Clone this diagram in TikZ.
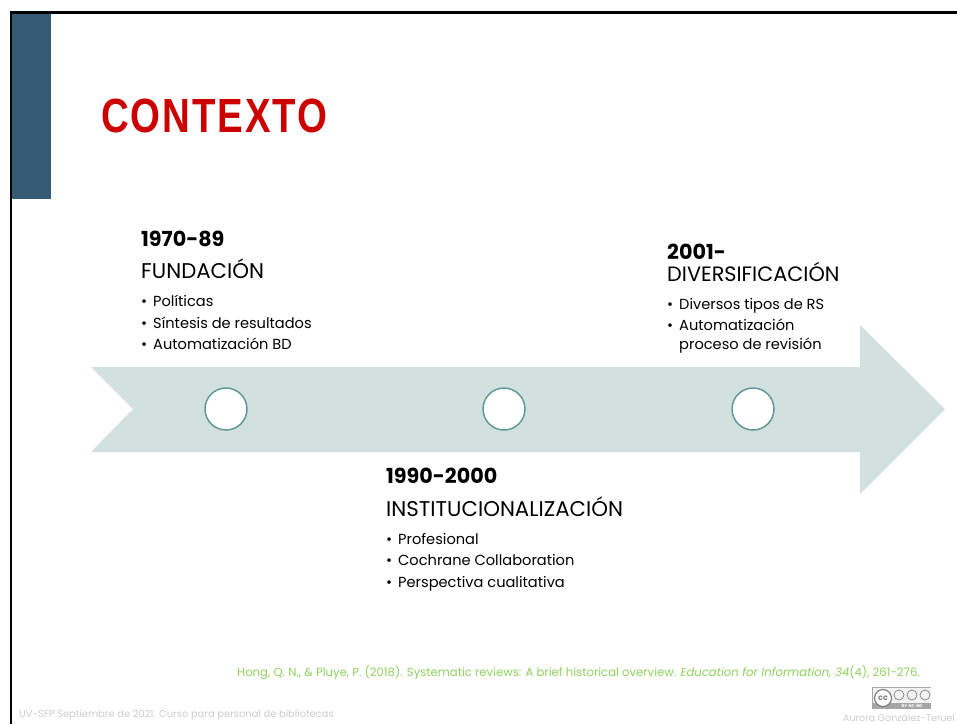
\documentclass[tikz,border=0pt]{standalone}
\usepackage{fontspec}
\setmainfont{Poppins}
\newfontfamily\titlefont[LetterSpace=5]{Liberation Sans}
\usetikzlibrary{positioning}
\definecolor{sidebar}{HTML}{345B73}
\definecolor{titlered}{HTML}{CC0000}
\definecolor{arrowfill}{HTML}{D3E0E0}
\definecolor{ringline}{HTML}{5F9A96}
\definecolor{citegreen}{HTML}{8FD05C}
\definecolor{footgray}{HTML}{C8CCCF}
\newcommand{\bul}{\makebox[12pt][l]{\textbullet}}
\tikzset{
    year/.style={anchor=base west, inner sep=0pt, font=\fontsize{20.7}{20.7}\selectfont\bfseries},
    era/.style={anchor=base west, inner sep=0pt, font=\fontsize{21.3}{21.3}\selectfont},
    items/.style={anchor=base west, inner sep=0pt, font=\fontsize{14.6}{14.6}\selectfont},
    ring/.style={circle, draw=ringline, fill=white, line width=1.5pt, minimum size=42pt, inner sep=0pt},
    foot/.style={anchor=base west, inner sep=0pt, text=footgray, font=\fontsize{9.9}{9.9}\selectfont},
    ccring/.style={circle, draw=gray, line width=.7pt, minimum size=10pt, inner sep=0pt}
}
\begin{document}
\begin{tikzpicture}
    \useasboundingbox (0pt,0pt) rectangle (957pt,-724pt);
    % frame and side bar
    \fill[black] (10pt,-11pt) rectangle (957pt,-14pt);
    \fill[black] (10pt,-11pt) rectangle (12pt,-724pt);
    \fill[sidebar] (12pt,-14pt) rectangle (51pt,-199pt);
    \node[anchor=base west, inner sep=0pt, text=titlered, xscale=0.80, transform shape,
        font=\titlefont\fontsize{48}{48}\selectfont\bfseries] (title) at (101pt,-132pt) {CONTEXTO};
    % timeline
    \fill[arrowfill] (91pt,-367pt) -- (860pt,-367pt) -- (860pt,-325pt) -- (945pt,-409pt)
        -- (860pt,-494pt) -- (860pt,-452pt) -- (91pt,-452pt) -- (133pt,-409pt) -- cycle;
    \node[ring] (ring1) at (226pt,-409pt) {};
    \node[ring] (ring2) at (504pt,-409pt) {};
    \node[ring] (ring3) at (753pt,-409pt) {};
    % first block
    \node[year] (year1) at (141pt,-246pt) {1970-89};
    \node[era] (era1) at (141pt,-278pt) {FUNDACIÓN};
    \node[items] (item1a) at (141pt,-306pt) {\bul Políticas};
    \node[items] (item1b) at (141pt,-328pt) {\bul Síntesis de resultados};
    \node[items] (item1c) at (141pt,-349pt) {\bul Automatización BD};
    % second block
    \node[year] (year2) at (386pt,-483pt) {1990-2000};
    \node[era] (era2) at (386pt,-516pt) {INSTITUCIONALIZACIÓN};
    \node[items] (item2a) at (386pt,-544pt) {\bul Profesional};
    \node[items] (item2b) at (386pt,-565pt) {\bul Cochrane Collaboration};
    \node[items] (item2c) at (386pt,-587pt) {\bul Perspectiva cualitativa};
    % third block
    \node[year] (year3) at (667pt,-259pt) {2001-};
    \node[era, font=\fontsize{20.8}{20.8}\selectfont] (era3) at (667pt,-281pt) {DIVERSIFICACIÓN};
    \node[items] (item3a) at (667pt,-309pt) {\bul Diversos tipos de RS};
    \node[items] (item3b) at (667pt,-330pt) {\bul Automatización};
    \node[items] (item3c) at (679pt,-349pt) {proceso de revisión};
    % citation and footers
    \node[anchor=base west, inner sep=0pt, text=citegreen, font=\fontsize{11.66}{11.66}\selectfont] (cite) at (237pt,-676pt)
        {Hong, Q. N., \& Pluye, P. (2018). Systematic reviews: A brief historical overview. \textit{Education for Information, 34}(4), 261-276.};
    \node[foot] (footleft) at (19pt,-717pt) {UV-SFP Septiembre de 2021. Curso para personal de bibliotecas};
    \node[foot, font=\fontsize{9.5}{9.5}\selectfont] (footright) at (843pt,-721pt) {Aurora González-Teruel};
    % licence badge
    \node[rectangle, fill=gray!70, minimum width=59pt, minimum height=22pt, inner sep=0pt] (badge) at (901.5pt,-698pt) {};
    \fill[gray!10] (873pt,-688pt) rectangle (930.5pt,-703pt);
    \node[circle, draw=gray, fill=white, line width=1.2pt, minimum size=17pt, inner sep=0pt, font=\fontsize{8}{8}\selectfont\bfseries, text=gray] (cc) at (883pt,-698pt) {cc};
    \node[ccring] (by) at (899pt,-695pt) {};
    \node[ccring] (nc) at (912pt,-695pt) {};
    \node[ccring] (nd) at (925pt,-695pt) {};
    \node[anchor=base, inner sep=0pt, text=white, font=\fontsize{4}{4}\selectfont\bfseries] (bytext) at (912pt,-707pt) {BY\ \ NC\ \ ND};
\end{tikzpicture}
\end{document}
